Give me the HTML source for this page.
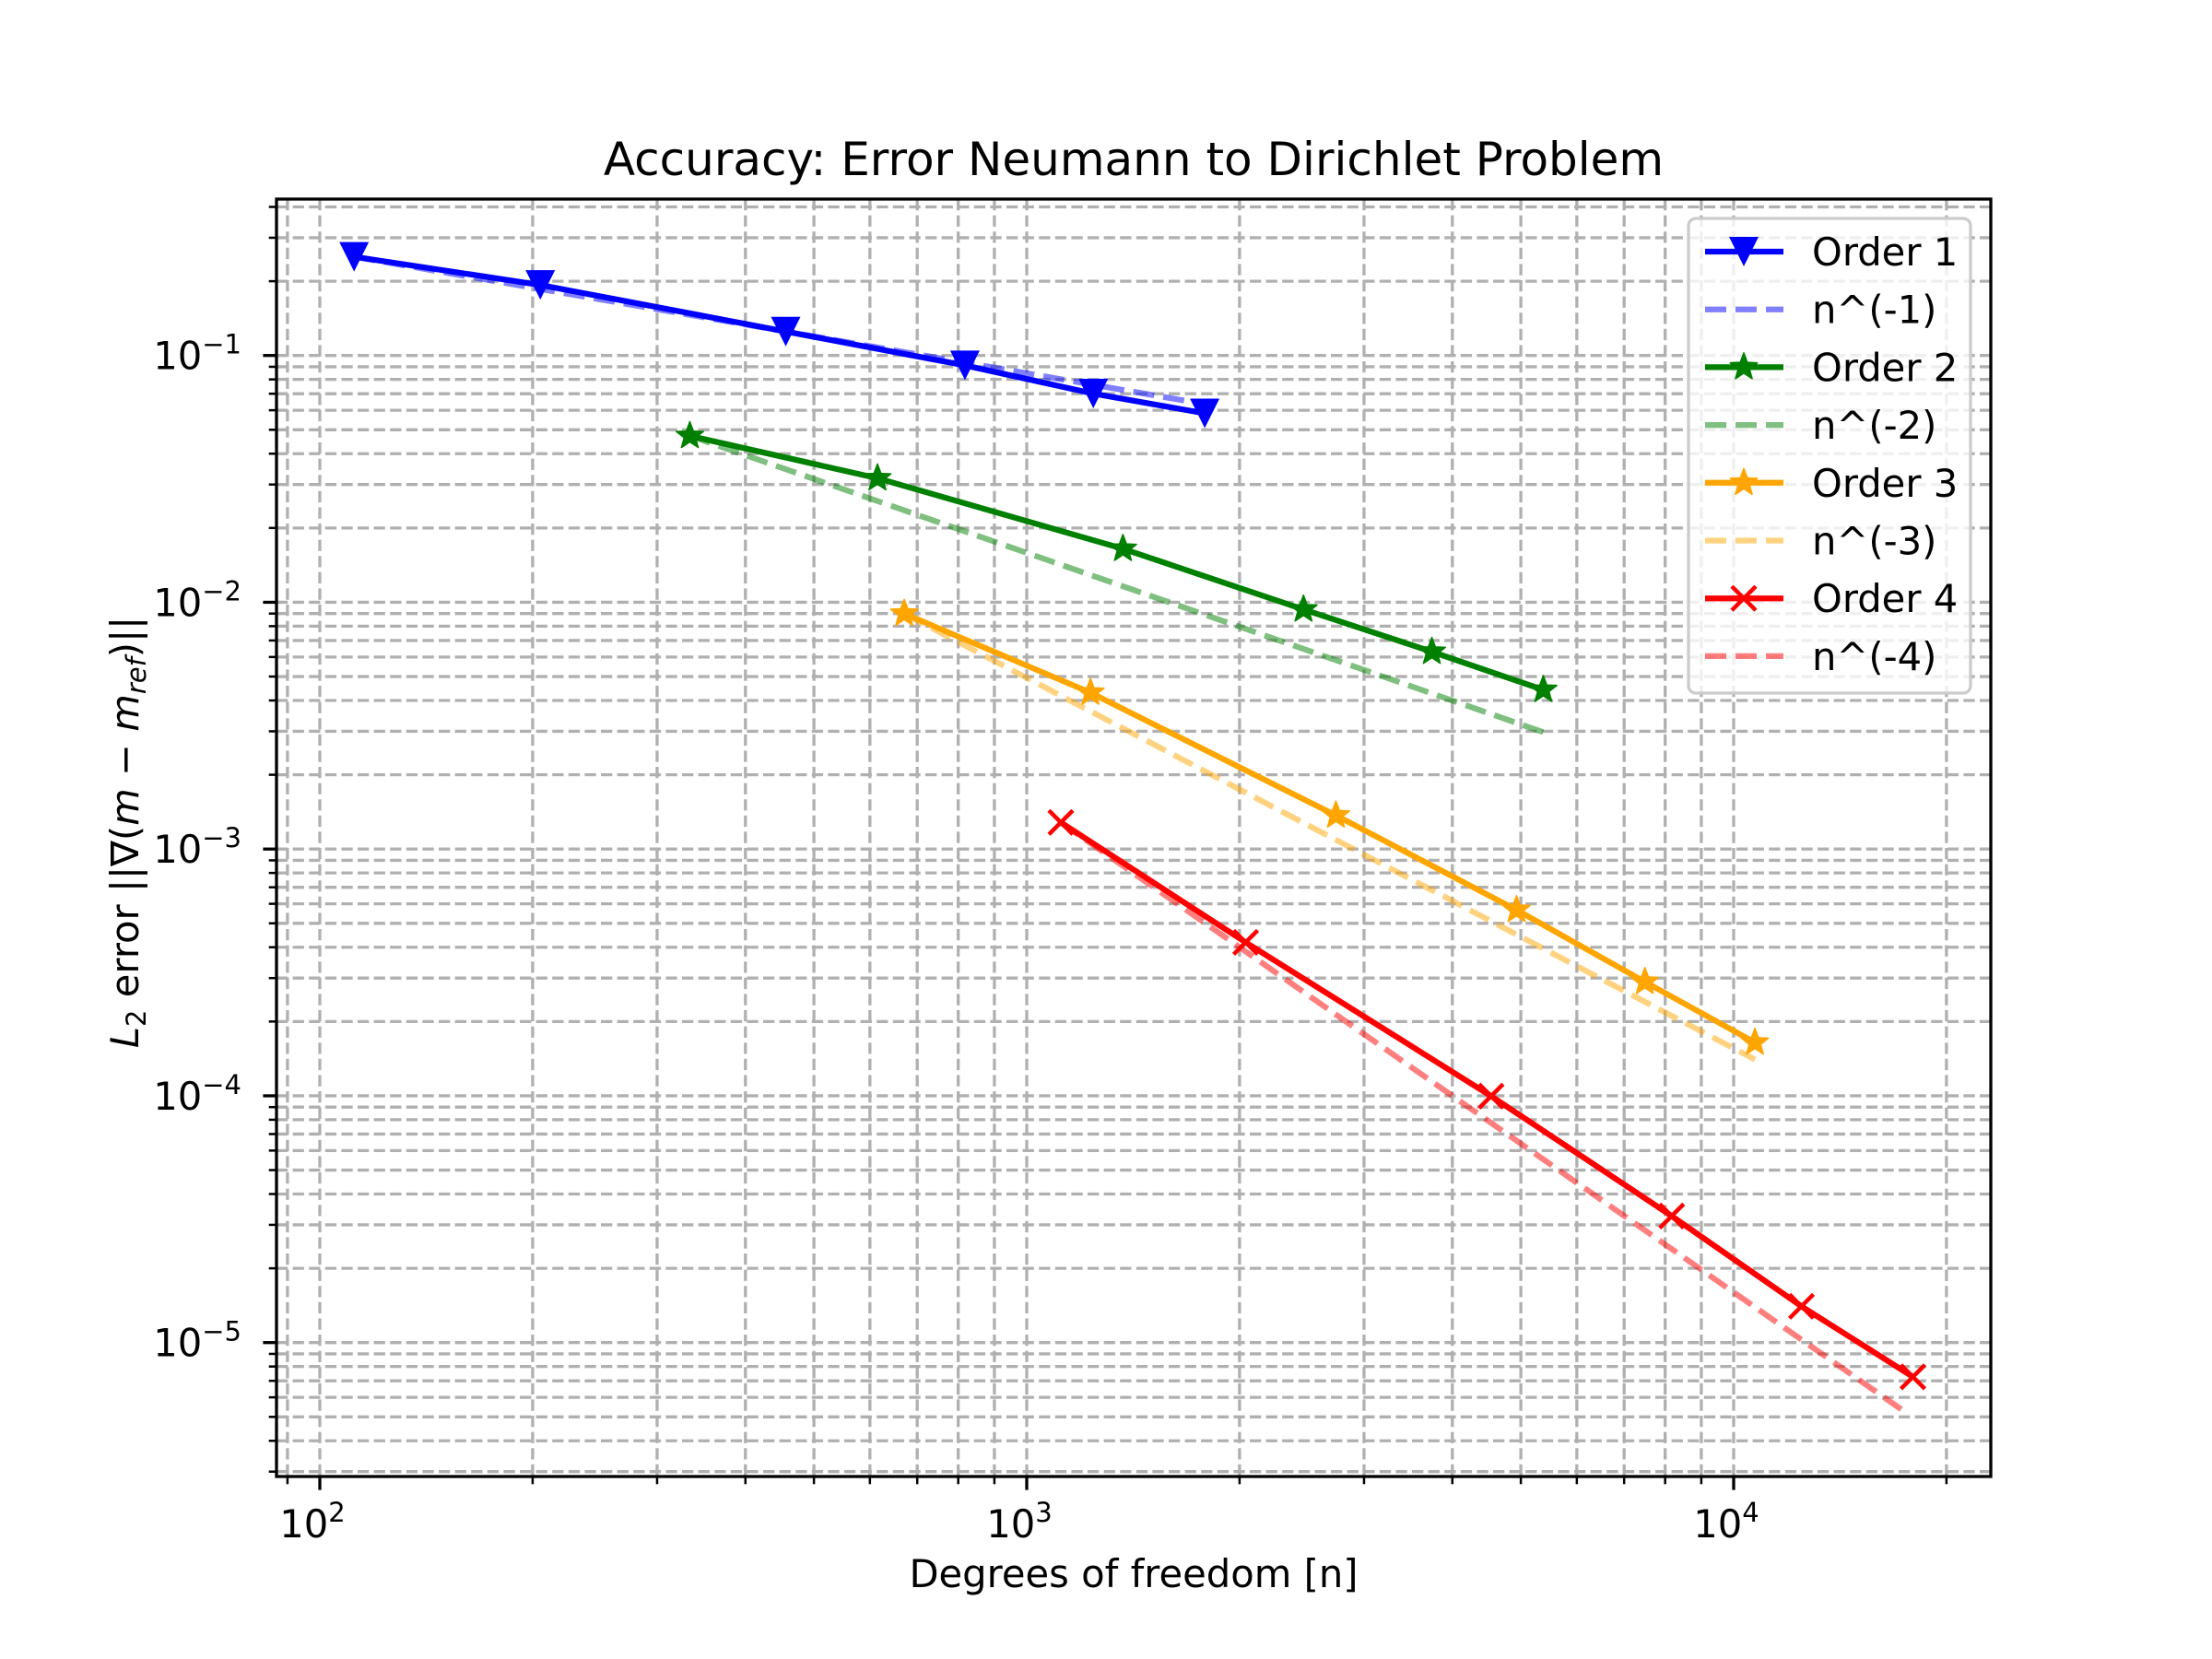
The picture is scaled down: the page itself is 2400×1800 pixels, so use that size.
<!DOCTYPE html>
<html><head><meta charset="utf-8"><style>
html,body{margin:0;padding:0;background:#fff;}
svg{display:block;}
text{font-family:"DejaVu Sans","Liberation Sans",sans-serif;fill:#000;}
</style></head><body>
<svg id="s" xmlns="http://www.w3.org/2000/svg" width="2400" height="1800" viewBox="0 0 2400 1800">
<rect width="2400" height="1800" fill="#fff"/>
<g id="grid"></g>
<g id="data"></g>
<g id="axes"></g>
<g id="leg"></g>
<text x="1230" y="190" font-size="50" text-anchor="middle">Accuracy: Error Neumann to Dirichlet Problem</text>
<text x="1230" y="1722" font-size="41.7" text-anchor="middle">Degrees of freedom [n]</text>
<g transform="translate(150,903) rotate(-90)">
<text x="0" y="0" font-size="41.7" text-anchor="middle"><tspan font-style="italic">L</tspan><tspan font-size="29" baseline-shift="-8">2</tspan> error ||∇(<tspan font-style="italic">m</tspan> − <tspan font-style="italic">m</tspan><tspan font-style="italic" font-size="29" baseline-shift="-8">ref</tspan>)||</text>
</g>
</svg>
<script>
var NS="http://www.w3.org/2000/svg";
function el(p,t,a,txt){var e=document.createElementNS(NS,t);for(var k in a)e.setAttribute(k,a[k]);if(txt!==undefined)e.textContent=txt;p.appendChild(e);return e;}
var L=300,R=2160,T=216,B=1602;
function X(v){return 347+767*(Math.log10(v)-2);}
function Y(v){return 385.7+267.75*(-1-Math.log10(v));}
var g=document.getElementById('grid'),ax=document.getElementById('axes'),d=document.getElementById('data'),lg=document.getElementById('leg');
var gs={stroke:'#b0b0b0','stroke-width':3.3,'stroke-dasharray':'12.3 5.3',fill:'none'};
for(var e=1;e<=4;e++)for(var m=1;m<=9;m++){var v=m*Math.pow(10,e),x=X(v);if(x<L||x>R)continue;
 el(g,'line',Object.assign({x1:x,x2:x,y1:T,y2:B},gs));
 var maj=(m==1);el(ax,'line',{x1:x,x2:x,y1:B,y2:B+(maj?14.6:8.3),stroke:'#000','stroke-width':maj?3.3:2.5});
 if(maj){var t=el(ax,'text',{x:x-8,y:1668,'font-size':41.7,'text-anchor':'middle'},'10');el(t,'tspan',{'font-size':29,dy:-17},String(e));}
}
for(var e=-6;e<=0;e++)for(var m=1;m<=9;m++){var v=m*Math.pow(10,e),y=Y(v);if(y<T||y>B)continue;
 el(g,'line',Object.assign({x1:L,x2:R,y1:y,y2:y},gs));
 var maj=(m==1);el(ax,'line',{x1:L,x2:L-(maj?14.6:8.3),y1:y,y2:y,stroke:'#000','stroke-width':maj?3.3:2.5});
 if(maj){var t=el(ax,'text',{x:262,y:y+15,'font-size':41.7,'text-anchor':'end'},'10');el(t,'tspan',{'font-size':29,dy:-17},'−'+(-e));}
}
el(ax,'rect',{x:L,y:T,width:R-L,height:B-T,fill:'none',stroke:'#000','stroke-width':3.3});
var S=1.5306;
function P(a){return a.map(function(p){return [p[0]*S,p[1]*S];});}
var series=[
 {c:'#0000ff',m:'v',pts:[[251,182],[383,202],[557,235],[684,259],[775,279],[854,293]],ref:[[251,182],[863,288]]},
 {c:'#008000',m:'*',pts:[[489,309],[622,339],[796,389],[924,432],[1015,462],[1094,489]],ref:[[489,309],[1094,519]]},
 {c:'#ffa500',m:'*',pts:[[641,435],[773,491],[947,578],[1075,645],[1166,696],[1244,739]],ref:[[641,435],[1244,751]]},
 {c:'#ff0000',m:'x',pts:[[752,583],[883,668],[1057,777],[1185,862],[1277,926],[1356,976]],ref:[[752,583],[1352,1002]]}
];
function marker(p,x,y,type,c){
 if(type=='v'){var h=16;el(p,'polygon',{points:(x-h)+','+(y-h)+' '+(x+h)+','+(y-h)+' '+x+','+(y+h),fill:c});}
 else if(type=='*'){var s='';for(var i=0;i<10;i++){var r=i%2?6.5:15.5,a=-Math.PI/2+i*Math.PI/5;s+=(x+r*Math.cos(a))+','+(y+r*Math.sin(a))+' ';}el(p,'polygon',{points:s,fill:c,stroke:c,'stroke-width':1.5,'stroke-linejoin':'round'});}
 else {var h=13;el(p,'path',{d:'M'+(x-h)+' '+(y-h)+'L'+(x+h)+' '+(y+h)+'M'+(x-h)+' '+(y+h)+'L'+(x+h)+' '+(y-h),stroke:c,'stroke-width':4.5,fill:'none'});}
}
series.forEach(function(s){
 var r=P(s.ref);el(d,'polyline',{points:r.join(' '),stroke:s.c,'stroke-opacity':0.5,'stroke-width':6.25,'stroke-dasharray':'23 10',fill:'none'});
});
series.forEach(function(s){
 var p=P(s.pts);el(d,'polyline',{points:p.join(' '),stroke:s.c,'stroke-width':6.25,fill:'none','stroke-linejoin':'round'});
 p.forEach(function(q){marker(d,q[0],q[1],s.m,s.c);});
});
el(lg,'rect',{x:1832,y:237,width:306,height:515,rx:8,fill:'#fff','fill-opacity':0.8,stroke:'#cccccc','stroke-width':3.3});
var labs=['Order 1','n^(-1)','Order 2','n^(-2)','Order 3','n^(-3)','Order 4','n^(-4)'];
for(var i=0;i<8;i++){var y=273+i*62.7,s=series[i>>1];
 if(i%2==0){el(lg,'line',{x1:1850,x2:1935,y1:y,y2:y,stroke:s.c,'stroke-width':6.25});marker(lg,1892,y,s.m,s.c);}
 else el(lg,'line',{x1:1850,x2:1935,y1:y,y2:y,stroke:s.c,'stroke-opacity':0.5,'stroke-width':6.25,'stroke-dasharray':'23 10'});
 el(lg,'text',{x:1966,y:y+15,'font-size':41.7},labs[i]);
}
</script>
</body></html>
